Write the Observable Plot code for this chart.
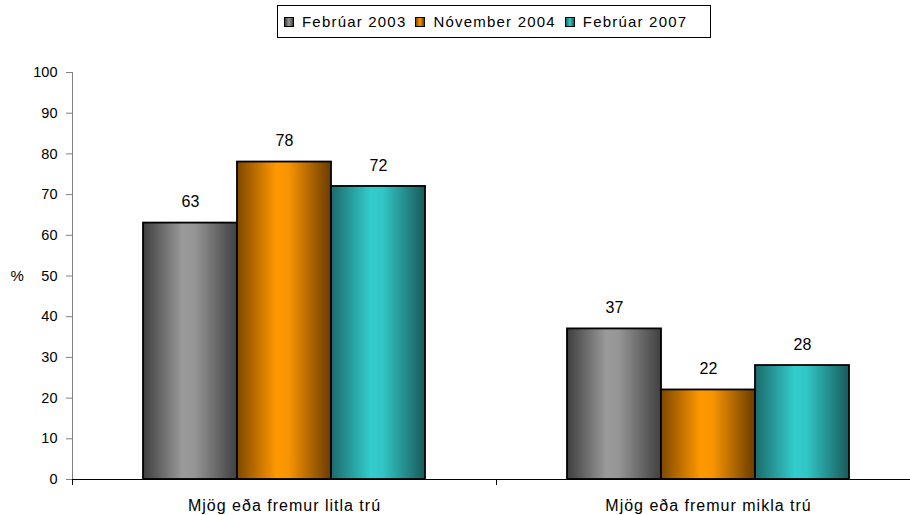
<!DOCTYPE html>
<html><head><meta charset="utf-8">
<script src="https://cdn.jsdelivr.net/npm/d3@7"></script>
<script src="https://cdn.jsdelivr.net/npm/@observablehq/plot@0.6"></script>
<style>
body{margin:0;background:#fff;font-family:"Liberation Sans",Arial,sans-serif;overflow:hidden}
#wrap{position:relative;width:910px;height:515px;overflow:hidden}
#legend{position:absolute;left:277px;top:5px;width:434px;height:33px;box-sizing:border-box;border:1px solid #000;display:flex;align-items:center;padding-left:6px;font-size:15px;letter-spacing:1.2px;color:#000}
.item{display:flex;align-items:center;margin-right:9px;white-space:nowrap}
.sw{width:8px;height:8px;border:1px solid #000;margin-right:8px}
#chart{position:absolute;left:0;top:42px}
</style></head><body>
<div id="wrap"><div id="legend"></div><div id="chart"></div></div>
<script>
const categories = ["Mjög eða fremur litla trú", "Mjög eða fremur mikla trú"];
const series = ["Febrúar 2003", "Nóvember 2004", "Febrúar 2007"];
const values2003 = [63, 37];
const values2004 = [78, 22];
const values2007 = [72, 28];
const yTicks = [0, 10, 20, 30, 40, 50, 60, 70, 80, 90, 100];
const yLabel = "%";
// gradient stops: dark left, light, light, dark right
const seriesGradients = [
  ["#3e3e3e", "#9a9a9a", "#959595", "#404040"],
  ["#7e4800", "#ff9900", "#f79400", "#6a3c00"],
  ["#1b6a6a", "#33cccc", "#32c6c6", "#185a5a"]
];
const gradientOffsets = [0, 0.42, 0.55, 1];

const seriesValues = [values2003, values2004, values2007];
const table = categories.flatMap((c, i) => series.map((s, j) => ({category: c, series: s, value: seriesValues[j][i]})));

// legend
const legend = d3.select("#legend");
series.forEach((s, j) => {
  const it = legend.append("div").attr("class", "item");
  it.append("div").attr("class", "sw")
    .style("background", `linear-gradient(to right, ${seriesGradients[j][0]}, ${seriesGradients[j][1]}, ${seriesGradients[j][3]})`);
  it.append("span").text(s);
});

const chart = Plot.plot({
  width: 910,
  height: 473,
  marginTop: 30,
  marginBottom: 36,
  marginLeft: 72,
  marginRight: -10,
  style: {fontFamily: "'Liberation Sans', Arial, sans-serif", fontSize: "14px", color: "black", background: "white", overflow: "visible"},
  fx: {domain: categories, padding: 0, label: null},
  x: {domain: series, paddingInner: 0, paddingOuter: 0.74, axis: null},
  y: {domain: [0, 100]},
  color: {type: "ordinal", domain: series, range: series.map((_, i) => `url(#grad${i})`)},
  marks: [
    Plot.frame({anchor: "left", stroke: "#808080", facet: "super"}),
    Plot.axisY({ticks: yTicks, tickSize: 6, tickPadding: 9, fontSize: 14.5, stroke: "#808080", fill: "black", label: null}),
    Plot.barY(table, {fx: "category", x: "series", y: "value", fill: "series", stroke: "black", strokeWidth: 1.8}),
    Plot.ruleY([0], {stroke: "black", strokeWidth: 1.2}),
    Plot.axisFx({anchor: "bottom", tickSize: 6, tickFormat: () => "", dx: -212, label: null, stroke: "black"}),
    Plot.axisFx({anchor: "bottom", tickSize: 0, tickPadding: 20, fontSize: 16, label: null, fill: "black"}),
    Plot.text(table, {fx: "category", x: "series", y: "value", text: d => String(d.value), dy: -21, fontSize: 16, fill: "black"}),
    Plot.text([yLabel], {frameAnchor: "left", textAnchor: "start", dx: -62, fontSize: 15, fill: "black", facet: "super"})
  ]
});

const svg = d3.select(chart);
const defs = svg.insert("defs", ":first-child");
seriesGradients.forEach((stops, i) => {
  const g = defs.append("linearGradient").attr("id", `grad${i}`).attr("x1", "0%").attr("x2", "100%").attr("y1", "0%").attr("y2", "0%");
  stops.forEach((c, k) => g.append("stop").attr("offset", gradientOffsets[k]).attr("stop-color", c));
});
svg.selectAll('g[aria-label="fx-axis tick label"] text').style("letter-spacing", "1px");
document.getElementById("chart").appendChild(chart);
</script>
</body></html>
